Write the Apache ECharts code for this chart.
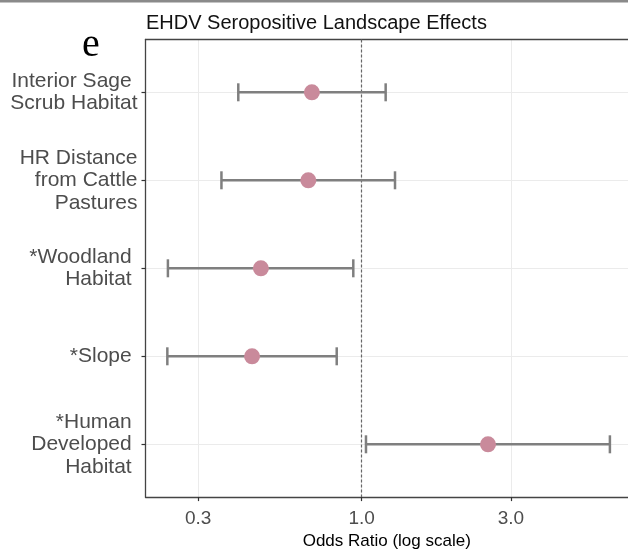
<!DOCTYPE html>
<html>
<head>
<meta charset="utf-8">
<script src="https://cdn.jsdelivr.net/npm/echarts@6/dist/echarts.min.js"></script>
<style>
  html, body { margin: 0; padding: 0; background: #fff; overflow: hidden; }
  #chart { width: 628px; height: 555px; }
</style>
</head>
<body>
<div id="chart"></div>
<script>
// rows top to bottom (trailing spaces keep the ragged right edge of the labels)
const categories = [
  'Interior Sage \nScrub Habitat',
  'HR Distance\nfrom Cattle\nPastures',
  '*Woodland \nHabitat ',
  '*Slope ',
  '*Human \nDeveloped \nHabitat '
];
// odds ratios
const estimates = [0.693, 0.675, 0.476, 0.446, 2.535];
const lowerCI = [0.403, 0.356, 0.240, 0.239, 1.032];
const upperCI = [1.193, 1.278, 0.940, 0.832, 6.22];

const xTickValues = [0.3, 1, 3];
const xTickLabels = ['0.3', '1.0', '3.0'];
const rowIndex = categories.map((c, i) => i + 1);

const textGrey = '#4d4d4d';
const barGrey = '#7f7f7f';
const frameColor = '#444';

const chart = echarts.init(document.getElementById('chart'), null, { renderer: 'canvas', width: 628, height: 555 });

// error bar + caps for every row
const renderErrorBar = (params, api) => {
  const y = api.value(0);
  const p1 = api.coord([api.value(1), y]);
  const p2 = api.coord([api.value(2), y]);
  const h = 9;
  const style = { stroke: barGrey, lineWidth: 2.5 };
  return {
    type: 'group',
    children: [
      { type: 'line', shape: { x1: p1[0], y1: p1[1], x2: p2[0], y2: p2[1] }, style },
      { type: 'line', shape: { x1: p1[0], y1: p1[1] - h, x2: p1[0], y2: p1[1] + h }, style },
      { type: 'line', shape: { x1: p2[0], y1: p2[1] - h, x2: p2[0], y2: p2[1] + h }, style }
    ]
  };
};

const option = {
  animation: false,
  textStyle: { fontFamily: 'Liberation Sans, Arial, sans-serif' },
  title: {
    text: 'EHDV Seropositive Landscape Effects',
    left: 146,
    top: 13,
    padding: 0,
    textStyle: { fontSize: 20, fontWeight: 'normal', color: '#111', fontFamily: 'Liberation Sans, Arial, sans-serif' }
  },
  graphic: [
    { type: 'rect', left: 0, top: 0, shape: { width: 628, height: 2.5 }, style: { fill: '#8a8a8a' } },
    {
      type: 'text', left: 82, top: 25,
      style: { text: 'e', fontSize: 40, fontFamily: 'Liberation Serif, Times New Roman, serif', fill: '#000' }
    }
  ],
  grid: {
    left: 145.5,
    top: 39.5,
    right: 0,
    height: 463,
    show: false,
    containLabel: false
  },
  xAxis: [
    {
      type: 'log',
      logBase: 10,
      min: 0.2035,
      max: 7.107,
      name: 'Odds Ratio (log scale)',
      nameLocation: 'middle',
      nameGap: 35,
      nameTextStyle: { fontSize: 17, color: '#000' },
      axisLine: { show: true, lineStyle: { color: frameColor, width: 1.3 } },
      axisTick: { show: true, length: 4, customValues: xTickValues, lineStyle: { color: '#333', width: 1.2 } },
      axisLabel: {
        customValues: xTickValues,
        fontSize: 19,
        color: textGrey,
        margin: 12,
        formatter: v => xTickLabels[xTickValues.findIndex(t => Math.abs(t - v) < 1e-6)] || ''
      },
      splitLine: { show: true, lineStyle: { color: '#ebebeb', width: 1 } },
      minorTick: { show: false },
      minorSplitLine: { show: false }
    },
    {
      // top edge of the panel
      type: 'log',
      logBase: 10,
      min: 0.2035,
      max: 7.107,
      position: 'top',
      axisLine: { show: true, lineStyle: { color: frameColor, width: 1.3 } },
      axisTick: { show: false },
      axisLabel: { show: false },
      splitLine: { show: false }
    }
  ],
  yAxis: {
    type: 'value',
    inverse: true,
    min: 0.4,
    max: 5.6,
    axisLine: { show: true, onZero: false, lineStyle: { color: frameColor, width: 1.3 } },
    axisTick: { show: true, length: 4, customValues: rowIndex, lineStyle: { color: '#333', width: 1.2 } },
    axisLabel: {
      customValues: rowIndex,
      fontSize: 21,
      lineHeight: 22.5,
      color: textGrey,
      margin: 8,
      formatter: v => categories[Math.round(v) - 1] || ''
    },
    splitLine: { show: true, lineStyle: { color: '#ebebeb', width: 1 } }
  },
  series: [
    {
      type: 'custom',
      renderItem: renderErrorBar,
      encode: { x: [1, 2], y: 0 },
      data: rowIndex.map((r, i) => [r, lowerCI[i], upperCI[i]]),
      z: 2,
      silent: true
    },
    {
      type: 'scatter',
      symbol: 'circle',
      symbolSize: 16,
      itemStyle: { color: '#c98a9b', opacity: 1 },
      data: rowIndex.map((r, i) => [estimates[i], r]),
      z: 3,
      markLine: {
        silent: true,
        symbol: 'none',
        label: { show: false },
        lineStyle: { color: '#666', type: [3, 2], width: 1.2 },
        data: [{ xAxis: 1 }],
        z: 1
      }
    }
  ]
};

chart.setOption(option);
</script>
</body>
</html>
